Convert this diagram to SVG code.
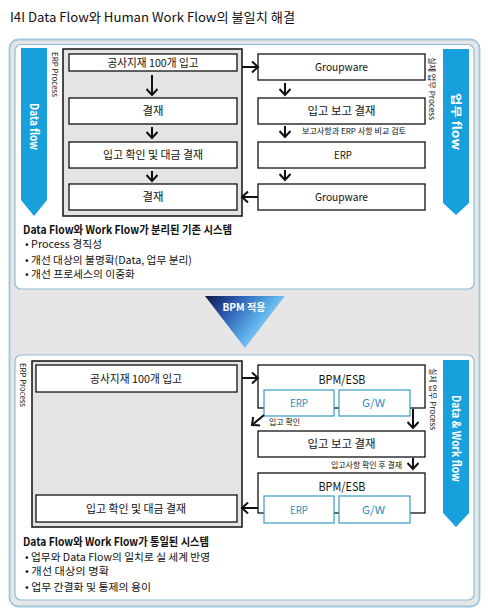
<svg xmlns="http://www.w3.org/2000/svg" width="488" height="616" viewBox="0 0 488 616">
<defs>
<style>
.t{font-family:"Liberation Sans Narrow","Noto Sans CJK KR",sans-serif;font-size:11px;fill:#111}
.s{font-family:"Liberation Sans Narrow","Noto Sans CJK KR",sans-serif;font-size:8px;fill:#111}
.b{font-weight:bold}
.w{fill:#fff;font-weight:bold}
.c{text-anchor:middle}
.box{fill:#fff;stroke:#111;stroke-width:1.3}
.sub{fill:#fff;stroke:#3a9cc8;stroke-width:1.2}
.subt{fill:#2b8ec2}
.grey{fill:#e4e4e4;stroke:#111;stroke-width:1.5}
.ban{fill:#18a0dc}
.conn{stroke:#111;stroke-width:2;fill:none;marker-end:url(#ah)}
</style>
<marker id="ah" markerUnits="userSpaceOnUse" markerWidth="12" markerHeight="12" viewBox="0 0 12 12" refX="8" refY="6" orient="auto">
<path d="M2,0.5 L8,6 L2,11.5" fill="none" stroke="#111" stroke-width="2"/>
</marker>
<linearGradient id="tri" x1="0" y1="0" x2="1" y2="0.5">
<stop offset="0" stop-color="#10154a"/>
<stop offset="0.35" stop-color="#2b5cb2"/>
<stop offset="0.7" stop-color="#5aaee8"/>
<stop offset="1" stop-color="#b4def5"/>
</linearGradient>
</defs>
<rect width="488" height="616" fill="#fff"/>
<text class="t" x="10" y="22" style="font-size:13px" textLength="285" lengthAdjust="spacingAndGlyphs">I4I Data Flow와 Human Work Flow의 불일치 해결</text>

<g id="frame">
<rect x="9.5" y="39.5" width="470" height="567" rx="9" fill="#e6e6e6" stroke="#9ec6dc" stroke-width="1.8"/>
<rect x="15" y="44.5" width="459" height="244.5" rx="6" fill="#fff" stroke="#8dbdd8" stroke-width="1.2"/>
<rect x="15" y="355" width="459" height="245" rx="6" fill="#fff" stroke="#8dbdd8" stroke-width="1.2"/>
</g>

<g id="bpm-apply">
<polygon points="205,296 285,296 245,348" fill="url(#tri)"/>
<text class="t w c" x="244" y="311" style="font-size:10.5px" textLength="43" lengthAdjust="spacingAndGlyphs">BPM 적용</text>
</g>

<g id="banner-data-flow">
<polygon class="ban" points="21,48 47,48 47,200 34,216 21,200"/>
<text class="t w" transform="translate(34,103) rotate(90)" x="0" y="4" textLength="47" lengthAdjust="spacingAndGlyphs">Data flow</text>
</g>
<g id="banner-work-flow">
<polygon class="ban" points="443,49 469,49 469,203 456,215 443,203"/>
<text class="t w" transform="translate(456,93) rotate(90)" x="0" y="4" textLength="57" lengthAdjust="spacingAndGlyphs">업무 flow</text>
</g>
<g id="banner-data-work-flow">
<polygon class="ban" points="443,360 469,360 469,513 456,527 443,513"/>
<text class="t w" transform="translate(456,395) rotate(90)" x="0" y="4" textLength="87" lengthAdjust="spacingAndGlyphs">Data &amp; Work flow</text>
</g>

<g id="labels-vertical">
<text class="s" transform="translate(55,52) rotate(90)" x="0" y="3" textLength="45" lengthAdjust="spacingAndGlyphs">ERP Process</text>
<text class="s" transform="translate(432,57) rotate(90)" x="0" y="3" textLength="63" lengthAdjust="spacingAndGlyphs">실제 업무 Process</text>
<text class="s" transform="translate(23,363) rotate(90)" x="0" y="3" textLength="44" lengthAdjust="spacingAndGlyphs">ERP Process</text>
<text class="s" transform="translate(433,368) rotate(90)" x="0" y="3" textLength="62" lengthAdjust="spacingAndGlyphs">실제 업무 Process</text>
</g>

<!-- top section -->
<g id="erp-process-top"><rect class="grey" x="63" y="49" width="179" height="167"/></g>
<g id="t-l1"><rect class="box" x="69" y="54" width="168" height="17"/><text class="t c" x="153" y="66.5" textLength="91" lengthAdjust="spacingAndGlyphs">공사지재 100개 입고</text></g>
<g id="t-l2"><rect class="box" x="69" y="98" width="168" height="26"/><text class="t c" x="153" y="115" textLength="21" lengthAdjust="spacingAndGlyphs">결재</text></g>
<g id="t-l3"><rect class="box" x="69" y="142" width="168" height="26"/><text class="t c" x="153" y="159" textLength="100" lengthAdjust="spacingAndGlyphs">입고 확인 및 대금 결재</text></g>
<g id="t-l4"><rect class="box" x="69" y="184" width="168" height="26"/><text class="t c" x="153" y="201" textLength="21" lengthAdjust="spacingAndGlyphs">결재</text></g>

<g id="t-r1"><rect class="box" x="258" y="54" width="167" height="26"/><text class="t c" x="341.5" y="71" textLength="53" lengthAdjust="spacingAndGlyphs">Groupware</text></g>
<g id="t-r2"><rect class="box" x="258" y="98" width="167" height="26"/><text class="t c" x="341.5" y="115" textLength="68" lengthAdjust="spacingAndGlyphs">입고 보고 결재</text></g>
<g id="t-r3"><rect class="box" x="258" y="142" width="167" height="26"/><text class="t c" x="343" y="159" textLength="18" lengthAdjust="spacingAndGlyphs">ERP</text></g>
<g id="t-r4"><rect class="box" x="258" y="184" width="167" height="26"/><text class="t c" x="341.5" y="201" textLength="53" lengthAdjust="spacingAndGlyphs">Groupware</text></g>

<!-- bottom section -->
<g id="erp-process-bottom"><rect class="grey" x="32" y="361" width="210" height="166"/></g>
<g id="b-l1"><rect class="box" x="36" y="365" width="201" height="27"/><text class="t c" x="136" y="382.5" textLength="92" lengthAdjust="spacingAndGlyphs">공사지재 100개 입고</text></g>
<g id="b-l2"><rect class="box" x="36" y="495" width="201" height="27"/><text class="t c" x="136" y="512.5" textLength="100" lengthAdjust="spacingAndGlyphs">입고 확인 및 대금 결재</text></g>

<g id="b-bpm1">
<rect class="box" x="258" y="365" width="167" height="43"/>
<text class="t c" x="342" y="384" style="font-size:12px" textLength="47" lengthAdjust="spacingAndGlyphs">BPM/ESB</text>
<rect class="sub" x="264" y="390" width="70" height="26"/>
<text class="t c subt" x="299" y="407" textLength="18" lengthAdjust="spacingAndGlyphs">ERP</text>
<rect class="sub" x="339" y="390" width="71" height="26"/>
<text class="t c subt" x="373.5" y="407" textLength="23" lengthAdjust="spacingAndGlyphs">G/W</text>
</g>
<g id="b-r2"><rect class="box" x="258" y="431" width="167" height="26"/><text class="t c" x="341.5" y="448" textLength="68" lengthAdjust="spacingAndGlyphs">입고 보고 결재</text></g>
<g id="b-bpm2">
<rect class="box" x="258" y="473" width="167" height="40"/>
<text class="t c" x="342" y="491" style="font-size:12px" textLength="47" lengthAdjust="spacingAndGlyphs">BPM/ESB</text>
<rect class="sub" x="264" y="496" width="70" height="27"/>
<text class="t c subt" x="299" y="513.5" textLength="18" lengthAdjust="spacingAndGlyphs">ERP</text>
<rect class="sub" x="339" y="496" width="71" height="27"/>
<text class="t c subt" x="373.5" y="513.5" textLength="23" lengthAdjust="spacingAndGlyphs">G/W</text>
</g>

<g id="connectors">
<path class="conn" d="M242,67 L258,67"/>
<path class="conn" d="M258,197 L242,197"/>
<path class="conn" d="M152,75 L152,95"/>
<path class="conn" d="M152,127 L152,138"/>
<path class="conn" d="M152,171 L152,181"/>
<path class="conn" d="M285,83 L285,95"/>
<path class="conn" d="M285,126 L285,137"/>
<path class="conn" d="M285,170 L285,180"/>
<path class="conn" d="M242,378 L258,378"/>
<path class="conn" d="M258,508 L242,508"/>
<path class="conn" d="M264,415 L252,425"/>
<path class="conn" d="M413,409 L413,428"/>
<path class="conn" d="M413,458 L413,469"/>
</g>

<g id="connector-labels">
<text class="s" x="302" y="134" textLength="104" lengthAdjust="spacingAndGlyphs">보고사항과 ERP 사항 비교 검토</text>
<text class="s" x="269" y="425" textLength="31" lengthAdjust="spacingAndGlyphs">입고 확인</text>
<text class="s" x="331" y="468" textLength="71" lengthAdjust="spacingAndGlyphs">입고사항 확인 후 결재</text>
</g>

<g id="notes-top">
<text class="t b" x="23" y="234" textLength="209" lengthAdjust="spacingAndGlyphs">Data Flow와 Work Flow가 분리된 기존 시스템</text>
<text class="t" x="25" y="248" style="font-size:10.5px" textLength="77" lengthAdjust="spacingAndGlyphs">• Process 경직성</text>
<text class="t" x="25" y="263.5" style="font-size:10.5px" textLength="167" lengthAdjust="spacingAndGlyphs">• 개선 대상의 불명확(Data, 업무 분리)</text>
<text class="t" x="25" y="278" style="font-size:10.5px" textLength="110" lengthAdjust="spacingAndGlyphs">• 개선 프로세스의 이중화</text>
</g>
<g id="notes-bottom">
<text class="t b" x="23" y="546" textLength="186" lengthAdjust="spacingAndGlyphs">Data Flow와 Work Flow가 통일된 시스템</text>
<text class="t" x="25" y="561" style="font-size:10.5px" textLength="185" lengthAdjust="spacingAndGlyphs">• 업무와 Data Flow의 일치로 실 세계 반영</text>
<text class="t" x="25" y="575" style="font-size:10.5px" textLength="84" lengthAdjust="spacingAndGlyphs">• 개선 대상의 명확</text>
<text class="t" x="25" y="590.5" style="font-size:10.5px" textLength="126" lengthAdjust="spacingAndGlyphs">• 업무 간결화 및 통제의 용이</text>
</g>
</svg>
